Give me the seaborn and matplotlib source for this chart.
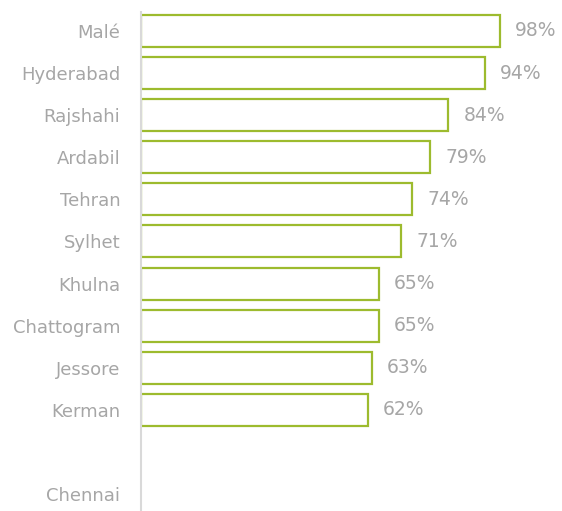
import numpy as np
import pandas as pd
import seaborn as sns
import matplotlib.pyplot as plt

cities = ["Malé", "Hyderabad", "Rajshahi", "Ardabil", "Tehran", "Sylhet",
          "Khulna", "Chattogram", "Jessore", "Kerman", " ", "Chennai"]
shares = [98, 94, 84, 79, 74, 71, 65, 65, 63, 62, np.nan, np.nan]

green = "#9DBB2E"
grey = "#A6A6A6"

sns.set_style("white")
plt.rcParams["font.family"] = ["DejaVu Sans"]

df = pd.DataFrame({"city": cities, "share": shares})

fig = plt.figure(figsize=(5.62, 5.11), dpi=100)
ax = fig.add_axes([141 / 562, 0, 366 / 562, 499 / 511])

sns.barplot(data=df, x="share", y="city", order=cities, orient="h",
            color="white", edgecolor=green, linewidth=1.6, width=0.76,
            errorbar=None, ax=ax)

ax.set_xlim(0, 100)
ax.set_ylim(11.4, -0.45)

for c in ax.containers:
    labels = ["" if np.isnan(v) else f"{v:.0f}%" for v in c.datavalues]
    ax.bar_label(c, labels=labels, padding=11, fontsize=13.5, color=grey)

ax.set_xlabel("")
ax.set_ylabel("")
ax.set_xticks([])
ax.tick_params(axis="y", length=0, pad=15, labelsize=13, labelcolor=grey)

sns.despine(ax=ax, top=True, right=True, bottom=True, left=False)
ax.spines["left"].set_color("#D9D9D9")
ax.spines["left"].set_linewidth(1.5)

fig.savefig("out.png", dpi=100)
